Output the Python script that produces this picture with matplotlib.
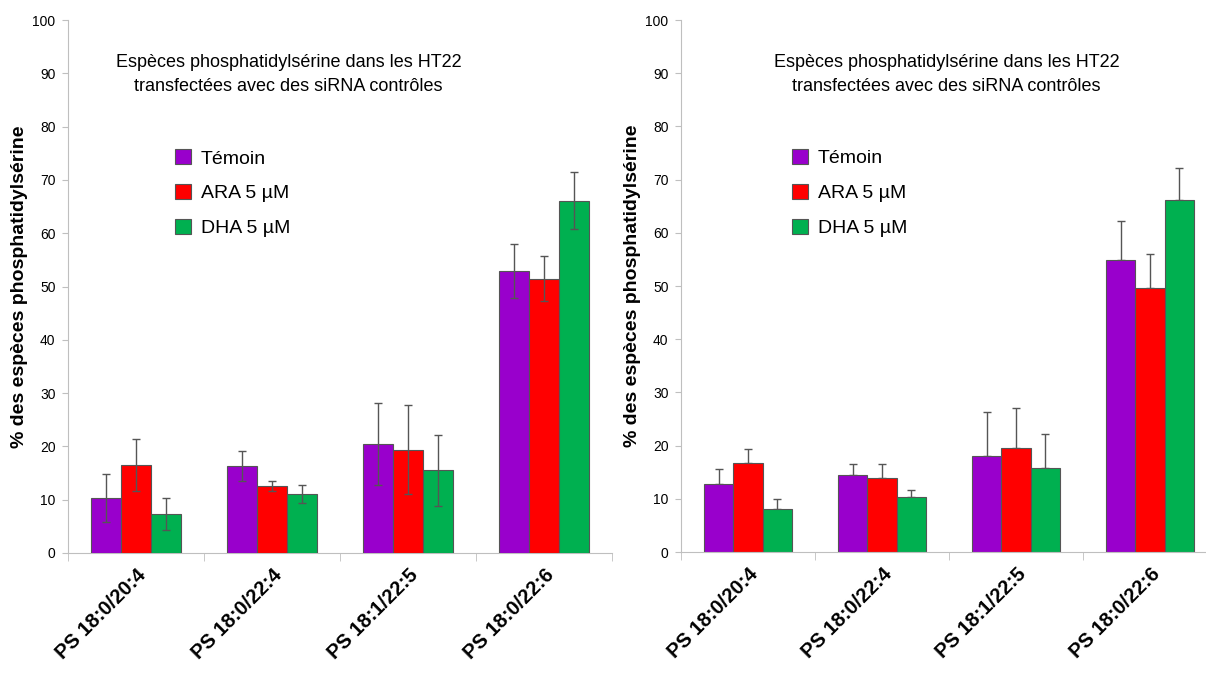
import numpy as np
import matplotlib.pyplot as plt

plt.rcParams['font.family'] = ['Liberation Sans', 'DejaVu Sans']

categories = ['PS 18:0/20:4', 'PS 18:0/22:4', 'PS 18:1/22:5', 'PS 18:0/22:6']
series = ['Témoin', 'ARA 5 µM', 'DHA 5 µM']
colors = ['#9900CC', '#FF0000', '#00B050']
title = 'Espèces phosphatidylsérine dans les HT22\ntransfectées avec des siRNA contrôles'
ylabel = '% des espèces phosphatidylsérine'

# graphe de gauche
left_vals = [[10.3, 16.3, 20.5, 52.9],
             [16.5, 12.6, 19.4, 51.5],
             [7.3, 11.1, 15.5, 66.1]]
left_err = [[4.5, 2.8, 7.7, 5.1],
            [4.9, 0.9, 8.4, 4.3],
            [3.0, 1.7, 6.7, 5.3]]
# graphe de droite
right_vals = [[12.8, 14.5, 18.1, 54.8],
              [16.8, 14.0, 19.6, 49.7],
              [8.1, 10.3, 15.7, 66.1]]
right_err = [[2.8, 2.1, 8.3, 7.4],
             [2.6, 2.6, 7.5, 6.4],
             [1.8, 1.3, 6.5, 6.0]]

fig = plt.figure(figsize=(12.06, 6.82), dpi=100)
ax1 = fig.add_axes([68/1206, 1-553/682, 544/1206, 533/682])
ax2 = fig.add_axes([681/1206, 1-552/682, 536/1206, 532/682])

def draw(ax, vals, errs, both, title_x, leg_x):
    x = np.arange(len(categories))
    w = 0.22
    for i in range(3):
        e = np.array(errs[i])
        yerr = e if both else [np.zeros_like(e), e]
        ax.bar(x + (i-1)*w, vals[i], w, color=colors[i], edgecolor='#555555',
               linewidth=0.8, label=series[i], zorder=3 if both else 2,
               yerr=yerr, error_kw=dict(ecolor='#555555', elinewidth=1, capsize=3,
                                        capthick=1, zorder=4 if both else 1))
    ax.set_xlim(-0.5, 3.5)
    ax.set_ylim(0, 100)
    ax.set_yticks(range(0, 101, 10))
    ax.set_xticks(x)
    ax.set_xticklabels(categories, rotation=45, ha='right', rotation_mode='anchor',
                       fontsize=14.5, fontweight='bold')
    ax.set_xticks(np.arange(-0.5, 4, 1), minor=True)
    ax.tick_params(axis='x', which='major', length=0, pad=9)
    ax.tick_params(axis='x', which='minor', length=6, color='#bfbfbf')
    ax.tick_params(axis='y', length=4, color='#bfbfbf', labelsize=10, pad=5)
    for s in ['top', 'right']:
        ax.spines[s].set_visible(False)
    for s in ['left', 'bottom']:
        ax.spines[s].set_color('#bfbfbf')
    ax.set_ylabel(ylabel, fontsize=14, fontweight='bold', labelpad=3)
    ax.text(title_x, 0.898, title, transform=ax.transAxes, ha='center', va='center',
            fontsize=13, linespacing=1.5)
    ax.legend(loc='upper left', bbox_to_anchor=(leg_x, 0.79), frameon=False,
              fontsize=14, handlelength=0.8, handleheight=0.8, labelspacing=0.85,
              handletextpad=0.5)

draw(ax1, left_vals, left_err, True, 0.405, 0.165)
draw(ax2, right_vals, right_err, False, 0.495, 0.175)

fig.savefig('out.png', dpi=100)
